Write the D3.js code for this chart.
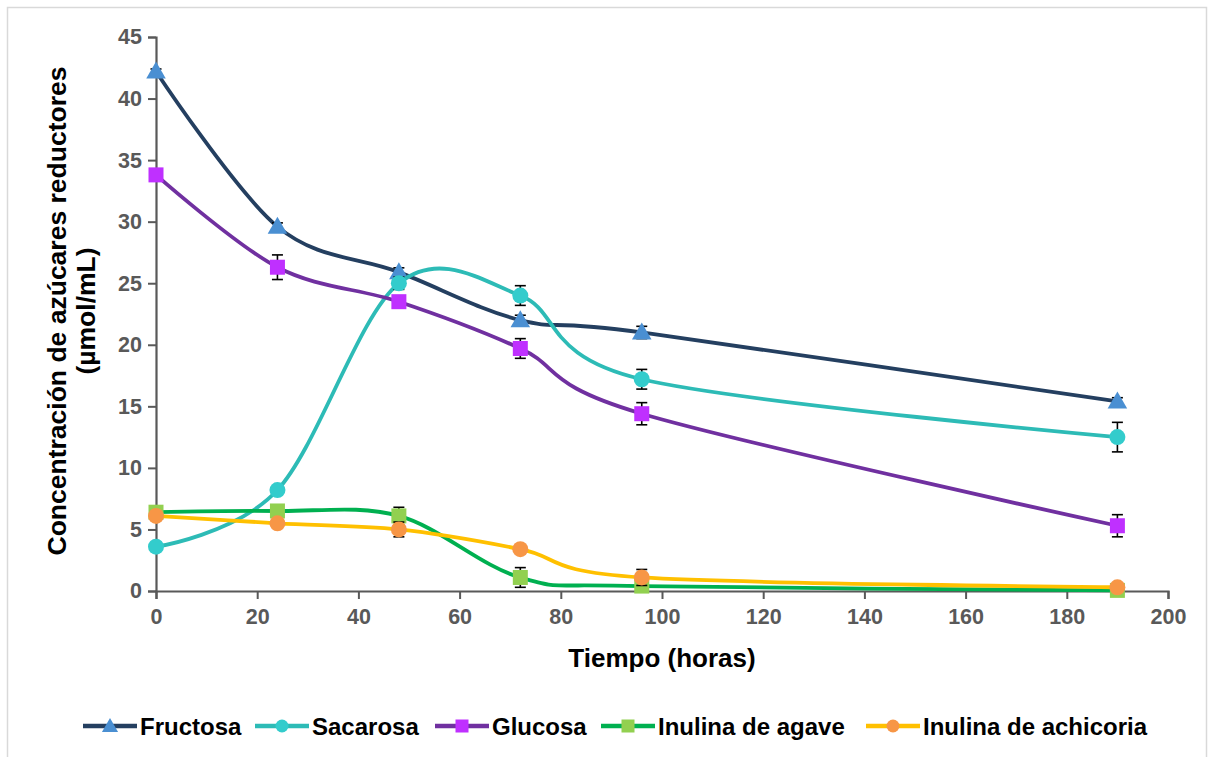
<!DOCTYPE html>
<html>
<head>
<meta charset="utf-8">
<script src="https://cdn.jsdelivr.net/npm/d3@7"></script>
<style>
  html, body { margin: 0; padding: 0; background: #fff; }
  svg { display: block; font-family: "Liberation Sans", Arial, sans-serif; }
</style>
</head>
<body>
<svg id="chart" width="1213" height="757"></svg>
<script>
// Sampling times (hours)
const hours = [0, 24, 48, 72, 96, 190];

// Reducing sugar concentration (µmol/mL) per series, with standard deviations
const fructosa = [42.2, 29.6, 25.9, 22.0, 21.0, 15.4];
const fructosaErr = [0.2, 0.3, 0.35, 0.4, 0.5, 0.3];
const sacarosa = [3.6, 8.2, 25.0, 24.0, 17.2, 12.5];
const sacarosaErr = [0.2, 0.2, 0.5, 0.8, 0.8, 1.2];
const glucosa = [33.8, 26.3, 23.5, 19.7, 14.4, 5.3];
const glucosaErr = [0.2, 1.0, 0.3, 0.8, 0.9, 0.9];
const inulinaAgave = [6.4, 6.5, 6.1, 1.1, 0.4, 0.05];
const inulinaAgaveErr = [0.2, 0.2, 0.7, 0.8, 0.2, 0.1];
const inulinaAchicoria = [6.1, 5.5, 5.0, 3.4, 1.1, 0.3];
const inulinaAchicoriaErr = [0.2, 0.2, 0.6, 0.3, 0.65, 0.2];

const seriesNames = ["Fructosa", "Sacarosa", "Glucosa", "Inulina de agave", "Inulina de achicoria"];
const xTicks = [0, 20, 40, 60, 80, 100, 120, 140, 160, 180, 200];
const yTicks = [0, 5, 10, 15, 20, 25, 30, 35, 40, 45];

const series = [
  { name: seriesNames[0], values: fructosa, err: fructosaErr, line: "#243F60", fill: "#4A8FD2", shape: "triangle" },
  { name: seriesNames[1], values: sacarosa, err: sacarosaErr, line: "#2DBBB6", fill: "#33CCCC", shape: "circle" },
  { name: seriesNames[2], values: glucosa, err: glucosaErr, line: "#7030A0", fill: "#BF30FF", shape: "square" },
  { name: seriesNames[3], values: inulinaAgave, err: inulinaAgaveErr, line: "#00B050", fill: "#92D050", shape: "square" },
  { name: seriesNames[4], values: inulinaAchicoria, err: inulinaAchicoriaErr, line: "#FFC000", fill: "#F79646", shape: "circle" }
];

const svg = d3.select("#chart");

// Outer chart frame
svg.append("rect")
  .attr("x", 7.5).attr("y", 7.5)
  .attr("width", 1199).attr("height", 760)
  .attr("fill", "#fff").attr("stroke", "#D9D9D9").attr("stroke-width", 1.5);

const x = d3.scaleLinear().domain([0, 200]).range([156, 1168]);
const y = d3.scaleLinear().domain([0, 45]).range([591, 37]);
const axisColor = "#595959";

// Y axis
const yAxis = svg.append("g")
  .attr("transform", `translate(${x(0)},0)`)
  .call(d3.axisLeft(y).tickValues(yTicks).tickSize(8).tickPadding(6));
// X axis
const xAxis = svg.append("g")
  .attr("transform", `translate(0,${y(0)})`)
  .call(d3.axisBottom(x).tickValues(xTicks).tickSize(8).tickPadding(10));

[yAxis, xAxis].forEach(g => {
  g.select(".domain").attr("stroke", axisColor).attr("stroke-width", 2.2);
  g.selectAll(".tick line").attr("stroke", axisColor).attr("stroke-width", 2);
  g.selectAll(".tick text")
    .attr("fill", axisColor)
    .attr("font-size", 21.5)
    .attr("font-weight", "bold")
    .attr("font-family", "Liberation Sans, Arial, sans-serif");
});

// Axis titles
svg.append("text")
  .attr("x", 662).attr("y", 667)
  .attr("text-anchor", "middle")
  .attr("font-size", 26).attr("font-weight", "bold").attr("fill", "#000")
  .text("Tiempo (horas)");

const yTitle = svg.append("text")
  .attr("transform", "translate(0,311) rotate(-90)")
  .attr("text-anchor", "middle")
  .attr("font-size", 26.5).attr("font-weight", "bold").attr("fill", "#000");
yTitle.append("tspan").attr("x", 0).attr("y", 66).text("Concentración de azúcares reductores");
yTitle.append("tspan").attr("x", 0).attr("y", 95).text("(µmol/mL)");

// Marker drawing helper
function drawMarker(g, shape, cx, cy, fill, size) {
  if (shape === "triangle") {
    const w = size * 1.15, h = size;
    g.append("path")
      .attr("d", `M${cx},${cy - h * 0.58}L${cx + w / 2},${cy + h * 0.42}L${cx - w / 2},${cy + h * 0.42}Z`)
      .attr("fill", fill);
  } else if (shape === "square") {
    g.append("rect")
      .attr("x", cx - size / 2).attr("y", cy - size / 2)
      .attr("width", size).attr("height", size)
      .attr("fill", fill);
  } else {
    g.append("circle").attr("cx", cx).attr("cy", cy).attr("r", size / 2).attr("fill", fill);
  }
}

const line = d3.line()
  .x((d, i) => x(hours[i]))
  .y(d => y(d))
  .curve(d3.curveCardinal.tension(0));

const markerSize = { triangle: 17, square: 15, circle: 16 };

series.forEach(s => {
  const g = svg.append("g").attr("class", "series");
  g.append("path")
    .attr("d", line(s.values))
    .attr("fill", "none")
    .attr("stroke", s.line)
    .attr("stroke-width", 3.8)
    .attr("stroke-linejoin", "round");

  // Error bars
  s.values.forEach((v, i) => {
    const cx = x(hours[i]);
    const y1 = y(v + s.err[i]), y2 = y(Math.max(0, v - s.err[i]));
    const eg = g.append("g").attr("stroke", "#000").attr("stroke-width", 1.6);
    eg.append("line").attr("x1", cx).attr("x2", cx).attr("y1", y1).attr("y2", y2);
    eg.append("line").attr("x1", cx - 5.5).attr("x2", cx + 5.5).attr("y1", y1).attr("y2", y1);
    eg.append("line").attr("x1", cx - 5.5).attr("x2", cx + 5.5).attr("y1", y2).attr("y2", y2);
  });

  s.values.forEach((v, i) => {
    drawMarker(g, s.shape, x(hours[i]), y(v), s.fill, markerSize[s.shape]);
  });
});

// Legend
const legendX = [83, 255, 435, 601, 866];
const legendY = 726;
series.forEach((s, i) => {
  const g = svg.append("g").attr("transform", `translate(${legendX[i]},${legendY})`);
  g.append("line").attr("x1", 0).attr("x2", 54).attr("y1", 0).attr("y2", 0)
    .attr("stroke", s.line).attr("stroke-width", 4.5);
  drawMarker(g, s.shape, 27, 0, s.fill, s.shape === "triangle" ? 14 : 13);
  g.append("text")
    .attr("x", 57).attr("y", 8.5)
    .attr("font-size", 24).attr("font-weight", "bold").attr("fill", "#000")
    .text(s.name);
});
</script>
</body>
</html>
